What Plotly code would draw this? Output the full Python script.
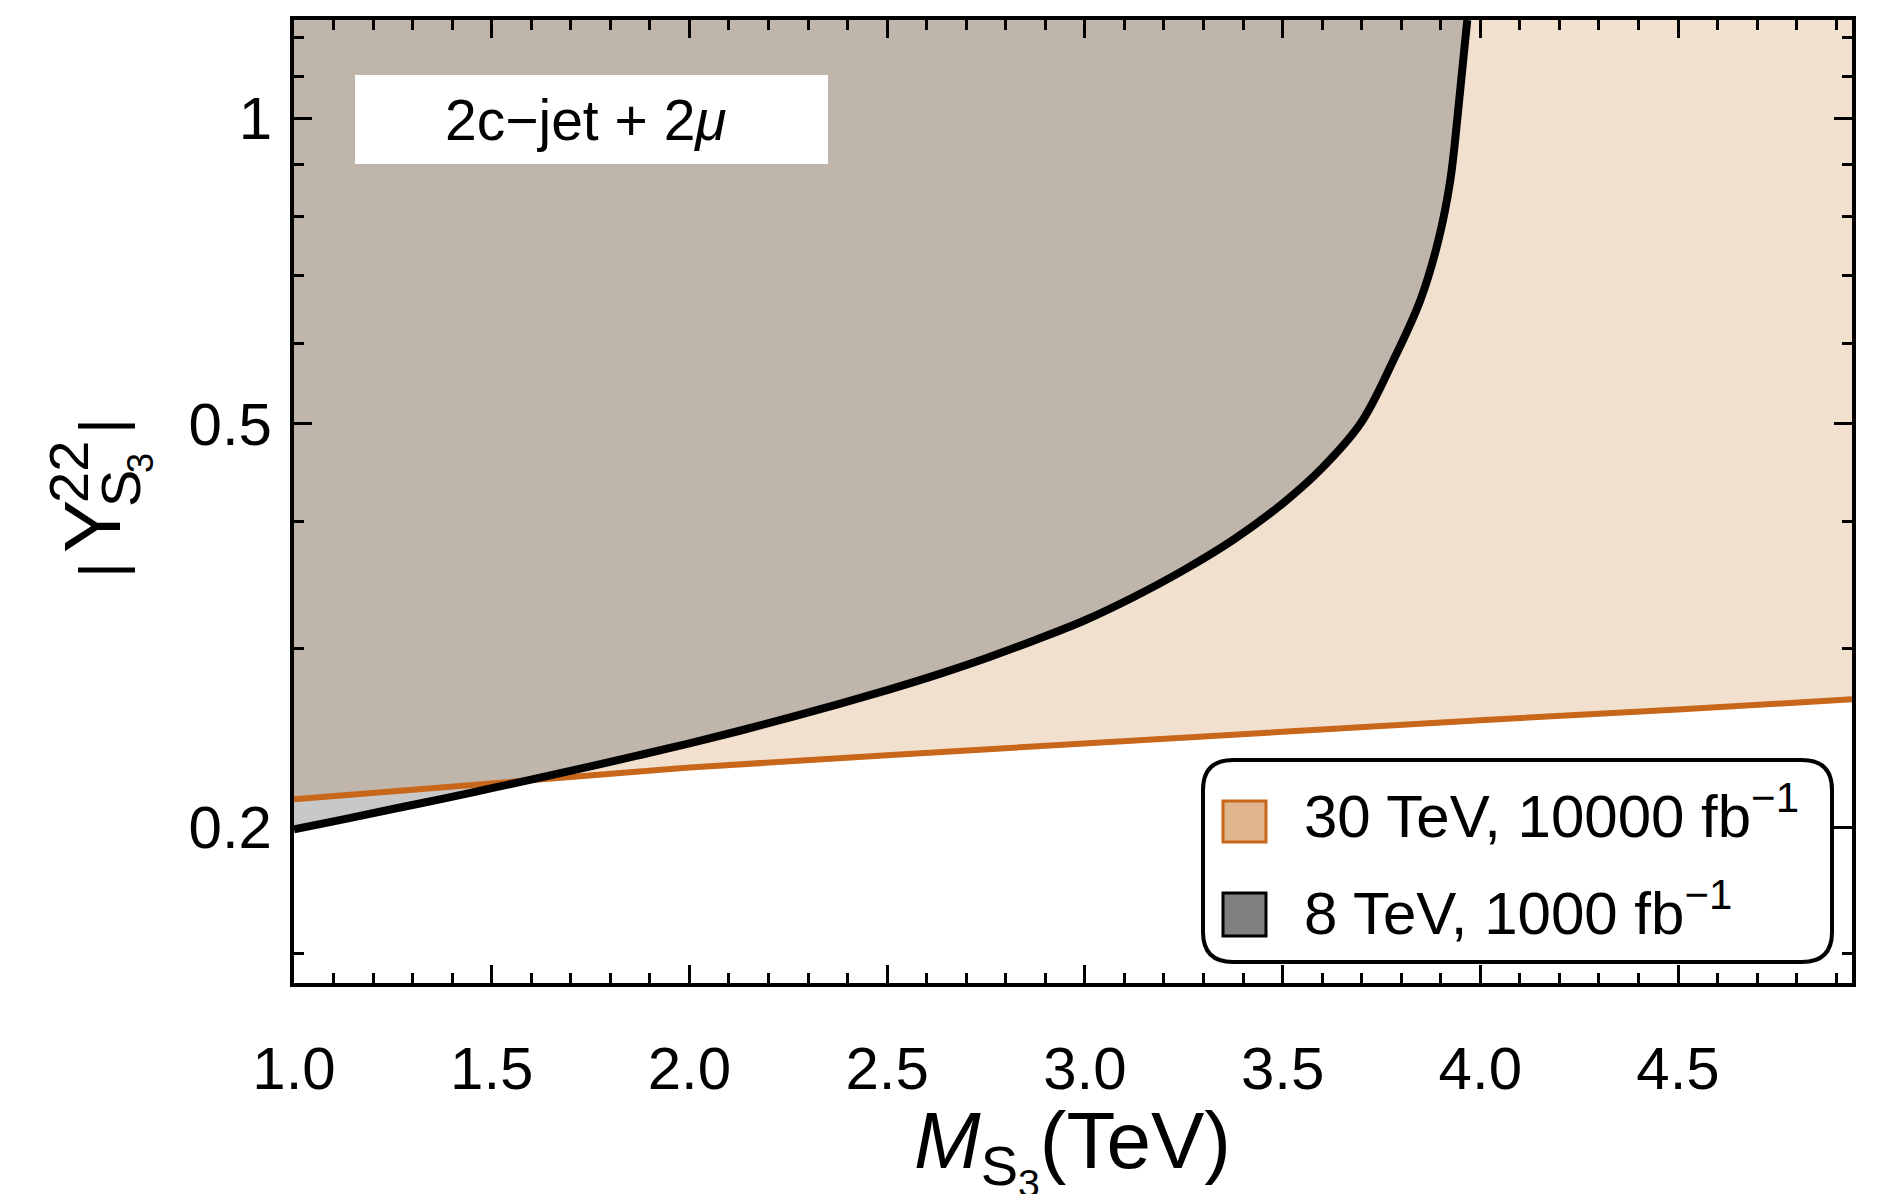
import numpy as np
import plotly.graph_objects as go

# ---------------- data ----------------
mass_30 = [1.0, 1.5, 2.0, 2.5, 3.0, 3.5, 4.0, 4.5, 4.94]
coup_30 = [0.2131, 0.2212, 0.2290, 0.2355, 0.2419, 0.2487, 0.2550, 0.2612, 0.2674]

mass_8 = [1.0, 1.125, 1.25, 1.375, 1.5, 1.625, 1.75, 1.875, 2.0, 2.125, 2.25, 2.375,
          2.5, 2.625, 2.75, 2.875, 3.0, 3.125, 3.25, 3.375, 3.5, 3.6, 3.697, 3.78,
          3.848, 3.894, 3.924, 3.942, 3.967]
coup_8 = [0.199, 0.2036, 0.2084, 0.2133, 0.2185, 0.2239, 0.2296, 0.2356, 0.2419, 0.2488,
          0.2563, 0.2643, 0.2730, 0.2826, 0.2935, 0.3059, 0.3199, 0.3375, 0.3585, 0.3840,
          0.417, 0.452, 0.500, 0.577, 0.661, 0.758, 0.868, 1.0, 1.25]

x_major = [1.0, 1.5, 2.0, 2.5, 3.0, 3.5, 4.0, 4.5]
x_labels = ["1.0", "1.5", "2.0", "2.5", "3.0", "3.5", "4.0", "4.5"]
x_minor = [round(1.0 + 0.1 * i, 1) for i in range(0, 40)]
y_major = [0.2, 0.5, 1.0]
y_labels = ["0.2", "0.5", "1"]
y_minor = [0.15, 0.3, 0.4, 0.6, 0.7, 0.8, 0.9, 1.1, 1.2]

legend_labels = ["30 TeV, 10000 fb<sup>\u22121</sup>", "8 TeV, 1000 fb<sup>\u22121</sup>"]
panel_label = "2c\u2212jet + 2<i>\u03bc</i>"

X_MIN, X_MAX = 1.0, 4.94
Y_MIN, Y_MAX = 0.1404, 1.25

# ---------------- styling ----------------
FONT = "Liberation Sans"
PEACH = "#F2E0CF"
ORANGE = "#C8661A"
GRAY_FILL = "rgba(112,112,112,0.385)"

W, H = 1880, 1194
L, R, T, B = 294, 28, 20, 211
PW, PH = W - L - R, H - T - B


def px(xp):
    return (xp - L) / PW


def py(yp):
    return (H - B - yp) / PH


fig = go.Figure()

# 30 TeV region (above the orange line)
fig.add_trace(go.Scatter(x=[mass_30[0], mass_30[-1]], y=[Y_MAX, Y_MAX], mode="lines",
                         line=dict(width=0), hoverinfo="skip", showlegend=False))
fig.add_trace(go.Scatter(x=mass_30, y=coup_30, mode="lines", fill="tonexty",
                         fillcolor=PEACH, line=dict(width=0), showlegend=False))
# 8 TeV region (above / left of black curve)
fig.add_trace(go.Scatter(x=[mass_8[0], mass_8[-1]], y=[Y_MAX, Y_MAX], mode="lines",
                         line=dict(width=0), hoverinfo="skip", showlegend=False))
fig.add_trace(go.Scatter(x=mass_8, y=coup_8, mode="lines", fill="tonexty",
                         fillcolor=GRAY_FILL, line=dict(width=0, shape="spline", smoothing=1.0),
                         showlegend=False))
# boundary lines
fig.add_trace(go.Scatter(x=mass_30, y=coup_30, mode="lines",
                         line=dict(color=ORANGE, width=6), showlegend=False))
fig.add_trace(go.Scatter(x=mass_8, y=coup_8, mode="lines",
                         line=dict(color="black", width=8, shape="spline", smoothing=1.0),
                         showlegend=False))

axis_common = dict(showline=True, linecolor="black", linewidth=4, mirror="allticks",
                   ticks="inside", ticklen=18, tickwidth=3, tickcolor="black",
                   showgrid=False, zeroline=False,
                   tickfont=dict(family=FONT, size=60, color="black"))

fig.update_xaxes(range=[X_MIN, X_MAX], tickmode="array", tickvals=x_major, ticktext=x_labels,
                 minor=dict(tickmode="array", tickvals=x_minor, ticks="inside", ticklen=10,
                            tickwidth=2.5, tickcolor="black", showgrid=False),
                 ticklabelstandoff=30, **axis_common)
fig.update_yaxes(type="log", range=[np.log10(Y_MIN), np.log10(Y_MAX)], tickmode="array",
                 tickvals=y_major, ticktext=y_labels,
                 minor=dict(tickmode="array", tickvals=y_minor, ticks="inside", ticklen=10,
                            tickwidth=2.5, tickcolor="black", showgrid=False),
                 ticklabelstandoff=6, **axis_common)

shapes = []
annotations = []

# panel label box
shapes.append(dict(type="rect", xref="paper", yref="paper", x0=px(355), x1=px(828),
                   y0=py(164), y1=py(75), fillcolor="white", line=dict(width=0), layer="above"))
annotations.append(dict(xref="paper", yref="paper", x=px(586), y=py(120), text=panel_label,
                        showarrow=False, xanchor="center", yanchor="middle",
                        font=dict(family=FONT, size=57, color="black")))

# legend box with rounded corners
x0, x1, y0, y1 = px(1203), px(1832), py(962), py(760)
rx, ry = 30 / PW, 30 / PH
path = (f"M {x0+rx},{y0} L {x1-rx},{y0} Q {x1},{y0} {x1},{y0+ry} "
        f"L {x1},{y1-ry} Q {x1},{y1} {x1-rx},{y1} L {x0+rx},{y1} "
        f"Q {x0},{y1} {x0},{y1-ry} L {x0},{y0+ry} Q {x0},{y0} {x0+rx},{y0} Z")
shapes.append(dict(type="path", xref="paper", yref="paper", path=path,
                   fillcolor="white", line=dict(color="black", width=4), layer="above"))
# swatches
shapes.append(dict(type="rect", xref="paper", yref="paper", x0=px(1223), x1=px(1266),
                   y0=py(842), y1=py(801), fillcolor="#DFB58D",
                   line=dict(color=ORANGE, width=3), layer="above"))
shapes.append(dict(type="rect", xref="paper", yref="paper", x0=px(1223), x1=px(1266),
                   y0=py(936), y1=py(893), fillcolor="#7F7F7F",
                   line=dict(color="black", width=3), layer="above"))
annotations.append(dict(xref="paper", yref="paper", x=px(1302), y=py(812), text=legend_labels[0],
                        showarrow=False, xanchor="left", yanchor="middle",
                        font=dict(family=FONT, size=60, color="black")))
annotations.append(dict(xref="paper", yref="paper", x=px(1302), y=py(909), text=legend_labels[1],
                        showarrow=False, xanchor="left", yanchor="middle",
                        font=dict(family=FONT, size=60, color="black")))

# x-axis title
annotations.append(dict(xref="paper", yref="paper", x=px(1072), y=py(1150),
                        text="<i>M</i><sub>S<sub>3</sub></sub>(TeV)",
                        showarrow=False, xanchor="center", yanchor="middle",
                        font=dict(family=FONT, size=80, color="black")))

# y-axis title |Y^{22}_{S_3}| assembled from rotated pieces
def ytitle(text, xc, yc, size):
    annotations.append(dict(xref="paper", yref="paper", x=px(xc), y=py(yc), text=text,
                            showarrow=False, xanchor="center", yanchor="middle", textangle=-90,
                            font=dict(family=FONT, size=size, color="black")))


ytitle("|", 100, 570, 62)
ytitle("Y", 92, 527, 80)
ytitle("22", 68, 472, 56)
ytitle("S", 120, 489, 56)
ytitle("3", 140, 463, 36)
ytitle("|", 100, 426, 62)

fig.update_layout(width=W, height=H, margin=dict(l=L, r=R, t=T, b=B, pad=0),
                  paper_bgcolor="white", plot_bgcolor="white",
                  shapes=shapes, annotations=annotations, showlegend=False)

fig.write_html("out.html")
